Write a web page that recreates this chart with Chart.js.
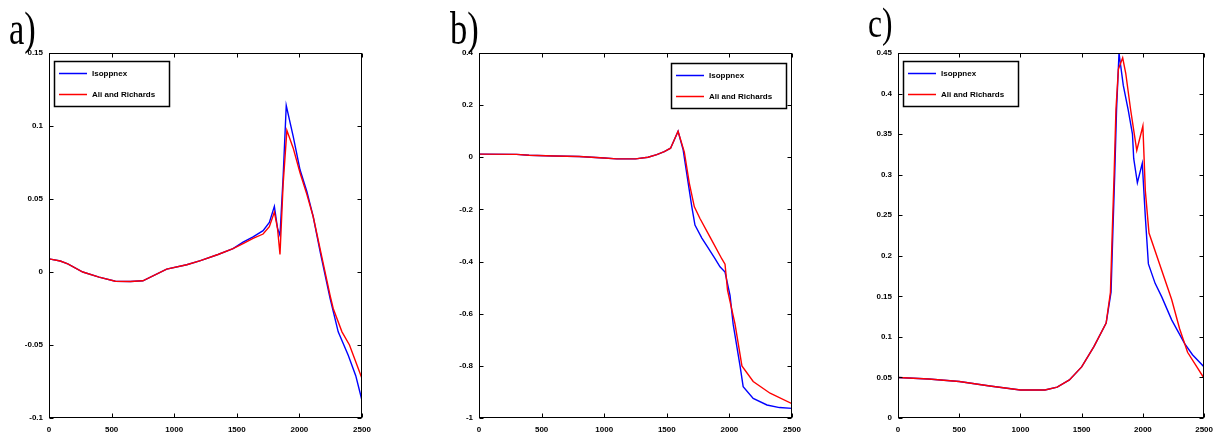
<!DOCTYPE html>
<html><head><meta charset="utf-8">
<script src="https://cdn.jsdelivr.net/npm/chart.js@4/dist/chart.umd.min.js"></script>
<style>
html,body{margin:0;padding:0;background:#fff;}
#wrap{position:relative;width:1220px;height:440px;overflow:hidden;background:#fff;}
.pane{position:absolute;top:0;height:440px;}
.lab{position:absolute;font-family:'Liberation Serif','DejaVu Serif',serif;line-height:1;transform-origin:0 0;transform:scaleX(0.75);color:#000;white-space:nowrap;}
</style></head><body>
<div id="wrap">
  <div class="pane" style="left:0;width:405px"><canvas id="ca" width="405" height="440"></canvas></div>
  <div class="pane" style="left:405px;width:405px"><canvas id="cb" width="405" height="440"></canvas></div>
  <div class="pane" style="left:810px;width:410px"><canvas id="cc" width="410" height="440"></canvas></div>
  <div class="lab" style="left:9px;top:6px;font-size:46px">a)</div>
  <div class="lab" style="left:450px;top:6px;font-size:46px">b)</div>
  <div class="lab" style="left:868px;top:2px;font-size:42px">c)</div>
</div>
<script>
// ---------- data ----------
const seriesNames = ['Isoppnex', 'Ali and Richards'];
const xTicks = [0, 500, 1000, 1500, 2000, 2500];

// panel a
const aIsoX = [0, 90, 150, 270, 400, 530, 650, 750, 940, 1100, 1210, 1350, 1470, 1550, 1630, 1710, 1760, 1800, 1825, 1845, 1870, 1895, 1950, 2005, 2060, 2110, 2170, 2245, 2310, 2390, 2450, 2500];
const aIsoY = [0.009, 0.0075, 0.0055, 0.0, -0.0035, -0.0063, -0.0065, -0.006, 0.002, 0.005, 0.0078, 0.012, 0.016, 0.0205, 0.024, 0.0283, 0.034, 0.045, 0.03, 0.025, 0.065, 0.114, 0.093, 0.07, 0.055, 0.038, 0.012, -0.018, -0.041, -0.057, -0.071, -0.088];
const aAliX = [0, 90, 150, 270, 400, 530, 650, 750, 940, 1100, 1210, 1350, 1470, 1550, 1630, 1710, 1760, 1800, 1825, 1845, 1870, 1900, 1950, 2005, 2060, 2110, 2170, 2245, 2270, 2340, 2400, 2500];
const aAliY = [0.009, 0.0075, 0.0055, 0.0, -0.0035, -0.0063, -0.0065, -0.006, 0.002, 0.005, 0.0078, 0.012, 0.016, 0.0195, 0.023, 0.026, 0.031, 0.041, 0.03, 0.012, 0.06, 0.097, 0.085, 0.068, 0.053, 0.038, 0.014, -0.016, -0.025, -0.041, -0.05, -0.073];
const aYTicks = [-0.1, -0.05, 0, 0.05, 0.1, 0.15];

// panel b
const bIsoX = [0, 300, 400, 600, 800, 1000, 1100, 1250, 1350, 1420, 1480, 1530, 1590, 1630, 1670, 1700, 1725, 1780, 1820, 1880, 1925, 1965, 2005, 2030, 2085, 2110, 2190, 2300, 2400, 2500];
const bIsoY = [0.012, 0.011, 0.008, 0.005, 0.003, -0.003, -0.006, -0.006, 0.0, 0.01, 0.022, 0.035, 0.1, 0.03, -0.096, -0.19, -0.26, -0.31, -0.34, -0.385, -0.42, -0.44, -0.53, -0.64, -0.80, -0.88, -0.925, -0.95, -0.96, -0.963];
const bAliX = [0, 300, 400, 600, 800, 1000, 1100, 1250, 1350, 1420, 1480, 1530, 1590, 1640, 1680, 1720, 1765, 1850, 1940, 1965, 1985, 2045, 2100, 2190, 2325, 2500];
const bAliY = [0.012, 0.011, 0.008, 0.005, 0.003, -0.003, -0.006, -0.006, 0.0, 0.01, 0.022, 0.035, 0.1, 0.02, -0.1, -0.19, -0.235, -0.31, -0.39, -0.41, -0.51, -0.64, -0.80, -0.86, -0.905, -0.945];
const bYTicks = [-1, -0.8, -0.6, -0.4, -0.2, 0, 0.2, 0.4];

// panel c
const cIsoX = [0, 250, 500, 750, 1000, 1200, 1300, 1400, 1500, 1600, 1700, 1740, 1755, 1770, 1785, 1805, 1840, 1880, 1915, 1925, 1955, 1995, 2020, 2045, 2100, 2155, 2235, 2340, 2405, 2500];
const cIsoY = [0.05, 0.048, 0.045, 0.0395, 0.0345, 0.0345, 0.038, 0.047, 0.063, 0.088, 0.117, 0.155, 0.23, 0.3, 0.38, 0.45, 0.41, 0.38, 0.35, 0.32, 0.29, 0.314, 0.248, 0.19, 0.166, 0.149, 0.121, 0.092, 0.078, 0.063];
const cAliX = [0, 250, 500, 750, 1000, 1200, 1300, 1400, 1500, 1600, 1700, 1735, 1750, 1765, 1780, 1800, 1835, 1860, 1900, 1950, 2000, 2020, 2050, 2235, 2300, 2365, 2500];
const cAliY = [0.05, 0.048, 0.045, 0.0395, 0.0345, 0.0345, 0.038, 0.047, 0.063, 0.088, 0.117, 0.155, 0.23, 0.3, 0.38, 0.43, 0.444, 0.425, 0.38, 0.33, 0.36, 0.28, 0.228, 0.146, 0.11, 0.081, 0.049];
const cYTicks = [0, 0.05, 0.1, 0.15, 0.2, 0.25, 0.3, 0.35, 0.4, 0.45];

// ---------- drawing ----------
const pts = (xs, ys) => xs.map((x, i) => ({x: x, y: ys[i]}));
const tickFont = {family: "'Liberation Sans', Arial, sans-serif", size: 8, weight: 'bold'};
const legendFont = "bold 8px 'Liberation Sans', Arial, sans-serif";

const framePlugin = {
  id: 'frame',
  afterDatasetsDraw(chart, args, opts) {
    const ctx = chart.ctx, a = chart.chartArea, xs = chart.scales.x, ys = chart.scales.y;
    ctx.save();
    ctx.strokeStyle = '#000';
    ctx.lineWidth = 1;
    const L = Math.round(a.left) + 0.5, R = Math.round(a.right) - 0.5;
    const T = Math.round(a.top) + 0.5, B = Math.round(a.bottom) - 0.5;
    ctx.strokeRect(L, T, R - L, B - T);
    const tl = 4;
    ctx.beginPath();
    xs.ticks.forEach(t => {
      const p = Math.round(xs.getPixelForValue(t.value)) + 0.5;
      ctx.moveTo(p, B); ctx.lineTo(p, B - tl);
      ctx.moveTo(p, T); ctx.lineTo(p, T + tl);
    });
    ys.ticks.forEach(t => {
      const p = Math.round(ys.getPixelForValue(t.value)) + 0.5;
      ctx.moveTo(L, p); ctx.lineTo(L + tl, p);
      ctx.moveTo(R, p); ctx.lineTo(R - tl, p);
    });
    ctx.stroke();
    // legend box
    const w = 115, h = 45;
    const bx = opts.side === 'right' ? Math.round(a.right) - opts.dx - w : Math.round(a.left) + opts.dx;
    const by = Math.round(a.top) + opts.dy;
    ctx.fillStyle = '#fff';
    ctx.fillRect(bx, by, w, h);
    ctx.lineWidth = 1.5;
    ctx.strokeRect(bx + 0.5, by + 0.5, w, h);
    chart.data.datasets.forEach((ds, i) => {
      const yy = by + 12.5 + i * 21;
      ctx.strokeStyle = ds.borderColor;
      ctx.lineWidth = 1.5;
      ctx.beginPath();
      ctx.moveTo(bx + 5, yy); ctx.lineTo(bx + 33, yy);
      ctx.stroke();
      ctx.fillStyle = '#000';
      ctx.font = legendFont;
      ctx.textBaseline = 'middle';
      ctx.textAlign = 'left';
      ctx.fillText(ds.label, bx + 38, yy);
    });
    ctx.restore();
  }
};

function makeChart(id, isoX, isoY, aliX, aliY, yTicks, yMin, yMax, chartLeft, chartRight, legendOpts) {
  const cv = document.getElementById(id);
  const W = cv.width;
  return new Chart(cv, {
    type: 'line',
    data: {
      datasets: [
        {label: seriesNames[0], data: pts(isoX, isoY), borderColor: '#0000ff', borderWidth: 1.4, pointRadius: 0, tension: 0, order: 2},
        {label: seriesNames[1], data: pts(aliX, aliY), borderColor: '#ff0000', borderWidth: 1.4, pointRadius: 0, tension: 0, order: 1}
      ]
    },
    options: {
      responsive: false,
      animation: false,
      events: [],
      layout: {padding: {left: 0, top: 53, right: W - chartRight, bottom: 0}},
      plugins: {legend: {display: false}, tooltip: {enabled: false}, frame: legendOpts},
      scales: {
        x: {
          type: 'linear', min: 0, max: 2500,
          afterBuildTicks: s => { s.ticks = xTicks.map(v => ({value: v})); },
          afterFit: s => { s.height = 22; },
          grid: {display: false, drawTicks: false},
          border: {display: false},
          ticks: {color: '#000', font: tickFont, padding: 7, maxRotation: 0, autoSkip: false, callback: v => String(v)}
        },
        y: {
          type: 'linear', min: yMin, max: yMax,
          afterBuildTicks: s => { s.ticks = yTicks.map(v => ({value: v})); },
          afterFit: s => { s.width = chartLeft; },
          grid: {display: false, drawTicks: false},
          border: {display: false},
          ticks: {color: '#000', font: tickFont, padding: 6, autoSkip: false, callback: v => String(Number(v.toFixed(3)))}
        }
      }
    },
    plugins: [framePlugin]
  });
}

makeChart('ca', aIsoX, aIsoY, aAliX, aAliY, aYTicks, -0.1, 0.15, 49, 362, {side: 'left', dx: 5, dy: 8});
makeChart('cb', bIsoX, bIsoY, bAliX, bAliY, bYTicks, -1, 0.4, 74, 387, {side: 'right', dx: 6, dy: 10});
makeChart('cc', cIsoX, cIsoY, cAliX, cAliY, cYTicks, 0, 0.45, 88, 400, {side: 'left', dx: 5, dy: 8});
</script>
</body></html>
